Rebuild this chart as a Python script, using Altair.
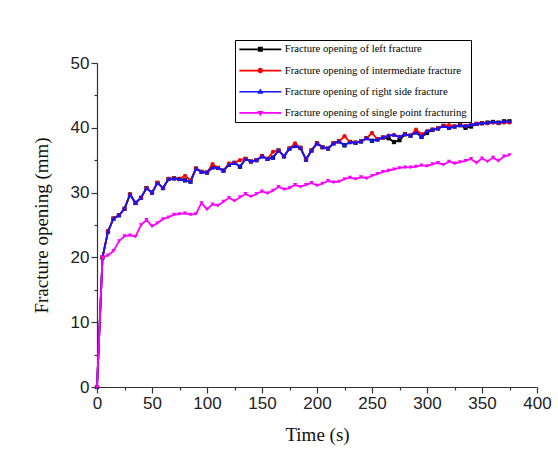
import altair as alt
import pandas as pd

times = [0, 5, 10, 15, 20, 25, 30, 35, 40, 45, 50, 55, 60, 65, 70, 75, 80, 85, 90, 95,
         100, 105, 110, 115, 120, 125, 130, 135, 140, 145, 150, 155, 160, 165, 170, 175,
         180, 185, 190, 195, 200, 205, 210, 215, 220, 225, 230, 235, 240, 245, 250, 255,
         260, 265, 270, 275, 280, 285, 290, 295, 300, 305, 310, 315, 320, 325, 330, 335,
         340, 345, 350, 355, 360, 365, 370, 375]

left = [0, 20, 24, 26, 26.5, 27.5, 29.7, 28.4, 29.2, 30.7, 30, 31.5, 30.7, 32.1, 32.2, 32.1,
        31.9, 31.7, 33.7, 33.2, 33.1, 33.9, 33.8, 33.4, 34.3, 34.6, 34, 35.2, 34.8, 35,
        35.6, 35.2, 35.4, 36.5, 35.6, 36.8, 37.2, 36.9, 35.1, 36.5, 37.6, 37, 36.8, 37.6,
        37.9, 37.3, 37.8, 37.7, 37.9, 38.4, 38, 38.2, 38.5, 38.4, 37.8, 38.1, 39, 38.8,
        39.3, 38.6, 39.2, 39.7, 39.9, 40.3, 40, 40.2, 40.4, 40, 40.2, 40.6, 40.7, 40.8,
        40.9, 40.8, 41, 41]

intermediate = [0, 20, 24, 26, 26.5, 27.5, 29.7, 28.4, 29.2, 30.7, 30, 31.5, 30.7, 32.1, 32.2, 32.1,
                32.6, 31.9, 33.7, 33.2, 33.1, 34.4, 33.8, 33.4, 34.5, 34.6, 35, 35.2, 34.8, 35,
                35.6, 35.2, 36.3, 36.5, 35.6, 36.8, 37.6, 36.9, 35.1, 36.5, 37.6, 37, 36.8, 37.6,
                37.9, 38.7, 37.8, 37.7, 37.9, 38.4, 39.2, 38.2, 38.5, 38.8, 38.9, 38.6, 39, 38.8,
                39.7, 39, 39.5, 39.7, 39.9, 40.3, 40.4, 40.2, 40.4, 40.3, 40.5, 40.6, 40.7, 40.7,
                40.8, 40.7, 40.8, 40.8]

right = [0, 20, 24, 26, 26.5, 27.5, 29.7, 28.4, 29.2, 30.7, 30, 31.5, 30.7, 32.1, 32.2, 32.1,
         31.9, 31.7, 33.7, 33.2, 33.1, 33.9, 33.8, 33.4, 34.3, 34.6, 34, 35.2, 34.8, 35,
         35.6, 35.2, 35.4, 36.5, 35.6, 36.8, 37.2, 36.9, 35.1, 36.5, 37.6, 37, 36.8, 37.6,
         37.9, 37.3, 37.8, 37.7, 37.9, 38.4, 38, 38.2, 38.5, 38.8, 38.9, 38.6, 39, 38.8,
         39.3, 38.6, 39.5, 39.7, 39.9, 40.3, 40, 40.2, 40.4, 40.3, 40.5, 40.6, 40.7, 40.8,
         40.9, 40.8, 41, 41]

single = [0, 20, 20.3, 21, 22.5, 23.3, 23.4, 23.2, 25, 25.8, 24.8, 25.3, 25.9, 26.2, 26.6, 26.7,
          26.8, 26.6, 26.7, 28.4, 27.4, 28.2, 28, 28.6, 29.2, 28.7, 29.3, 29.8, 29.4, 29.8,
          30.2, 29.9, 30.3, 30.9, 30.5, 30.7, 31.2, 30.9, 31.2, 31.5, 31.1, 31.4, 31.8, 31.6,
          31.7, 32.1, 32.3, 32.1, 32.4, 32.2, 32.6, 32.9, 33.2, 33.4, 33.6, 33.8, 33.9, 33.9,
          34, 34.2, 34.1, 34.4, 34.6, 34.3, 34.8, 34.5, 34.7, 34.9, 35.2, 34.6, 35.3, 34.8,
          35.4, 34.9, 35.6, 35.8]

series_names = [
    "Fracture opening of left fracture",
    "Fracture opening of intermediate fracture",
    "Fracture opening of right side fracture",
    "Fracture opening of single point fracturing",
]
series_values = [left, intermediate, right, single]
colors = ["#000000", "#ff0000", "#1414ff", "#ff00ff"]
shapes = ["square", "circle", "triangle-up", "triangle-down"]

# legend glyphs: unit = 5px (symbolSize 100); a 42px line with a marker in its middle
legend_paths = [
    "M-1,-0.17H7.4V0.17H-1Z M2.7,-0.5H3.7V0.5H2.7Z",
    "M-1,-0.17H7.4V0.17H-1Z M2.65,0A0.55,0.55,0,1,1,3.75,0A0.55,0.55,0,1,1,2.65,0Z",
    "M-1,-0.17H7.4V0.17H-1Z M3.2,-0.65L3.8,0.4H2.6Z",
    "M-1,-0.17H7.4V0.17H-1Z M3.2,0.65L2.6,-0.4H3.8Z",
]

rows = []
for name, vals in zip(series_names, series_values):
    for t, v in zip(times, vals):
        rows.append({"time": t, "value": v, "series": name})
df = pd.DataFrame(rows)

x_enc = alt.X(
    "time:Q",
    scale=alt.Scale(domain=[0, 400], nice=False),
    axis=alt.Axis(
        title="Time (s)",
        values=list(range(0, 401, 25)),
        labelExpr="datum.value % 50 === 0 ? datum.label : ''",
        tickSize={"condition": {"test": "datum.value % 50 === 0", "value": 6}, "value": 3},
        labelPadding=2,
        titlePadding=14,
        labelFlush=False,
        labelOverlap=False,
    ),
)
y_enc = alt.Y(
    "value:Q",
    scale=alt.Scale(domain=[0, 50], nice=False),
    axis=alt.Axis(
        title="Fracture opening (mm)",
        values=list(range(0, 51, 5)),
        labelExpr="datum.value % 10 === 0 ? datum.label : ''",
        tickSize={"condition": {"test": "datum.value % 10 === 0", "value": 6}, "value": 3},
        labelPadding=2,
        titlePadding=19,
        labelFlush=False,
        labelOverlap=False,
    ),
)

layers = []
for name, col, shp in zip(series_names, colors, shapes):
    base = alt.Chart(df).transform_filter(alt.datum.series == name)
    layers.append(base.mark_line(color=col, strokeWidth=1.8).encode(x=x_enc, y=y_enc))
    layers.append(
        base.mark_point(color=col, shape=shp, filled=True, size=18, opacity=1).encode(x=x_enc, y=y_enc)
    )

legend_layer = alt.Chart(df).transform_filter("false").mark_point(filled=True, opacity=1).encode(
    x=x_enc,
    y=y_enc,
    color=alt.Color(
        "series:N",
        scale=alt.Scale(domain=series_names, range=colors),
        legend=alt.Legend(title=None),
    ),
    shape=alt.Shape(
        "series:N",
        scale=alt.Scale(domain=series_names, range=legend_paths),
        legend=alt.Legend(title=None),
    ),
)

chart = alt.layer(*layers, legend_layer).properties(
    width=440,
    height=324,
    padding={"left": 97, "top": 63, "right": 21, "bottom": 62},
    autosize=alt.AutoSizeParams(type="none"),
).configure_view(stroke=None).configure_axis(
    grid=False,
    domainColor="#333333",
    domainWidth=1.2,
    tickColor="#333333",
    tickWidth=1.2,
    labelFont="Liberation Sans",
    labelFontSize=17,
    labelColor="#222222",
    titleFont="Liberation Serif",
    titleFontSize=19,
    titleFontWeight="normal",
    titleColor="#111111",
).configure_legend(
    orient="none",
    legendX=138,
    legendY=-23,
    strokeColor="#000000",
    fillColor="#ffffff",
    padding=4,
    labelFont="Liberation Serif",
    labelFontSize=10.7,
    labelColor="#000000",
    labelLimit=400,
    symbolSize=100,
    symbolStrokeWidth=0,
    labelOffset=35,
    rowPadding=9.2,
    cornerRadius=0,
)

chart.save("out.html", embed_options={"renderer": "svg", "actions": False})
